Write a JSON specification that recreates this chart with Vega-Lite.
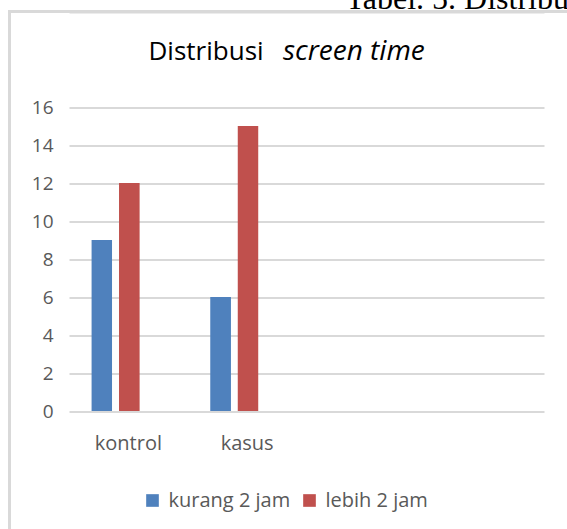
{
  "$schema": "https://vega.github.io/schema/vega-lite/v6.json",
  "autosize": "none",
  "padding": {"left": 9.5, "top": 11.5, "right": -52.5, "bottom": -52.5},
  "width": 610,
  "height": 570,
  "background": "#ffffff",
  "config": {
    "view": {"stroke": "#d9d9d9", "strokeWidth": 3}
  },
  "data": {
    "values": [
      {"grup": "kontrol", "kategori": "kurang 2 jam", "nilai": 9},
      {"grup": "kontrol", "kategori": "lebih 2 jam", "nilai": 12},
      {"grup": "kasus", "kategori": "kurang 2 jam", "nilai": 6},
      {"grup": "kasus", "kategori": "lebih 2 jam", "nilai": 15}
    ]
  },
  "encoding": {
    "xOffset": {
      "field": "kategori",
      "type": "nominal",
      "scale": {"domain": ["kurang 2 jam", "lebih 2 jam", "-"], "paddingInner": 0.26, "paddingOuter": 0.8, "align": 0.52}
    },
    "y": {
      "field": "nilai",
      "type": "quantitative",
      "scale": {"domain": [0, 16], "range": [399.5, 95.5], "nice": false, "zero": true},
      "axis": {
        "orient": "left",
        "offset": -59.5,
        "values": [0, 2, 4, 6, 8, 10, 12, 14, 16],
        "domain": false,
        "ticks": false,
        "tickSize": 0,
        "grid": true,
        "gridColor": "#d9d9d9",
        "gridWidth": 2,
        "labelPadding": 16,
        "labelFont": "Open Sans",
        "labelFontSize": 19,
        "labelColor": "#595959",
        "title": "screen time",
        "titleFont": "Open Sans",
        "titleFontSize": 28,
        "titleFontWeight": "normal",
        "titleFontStyle": "italic",
        "titleColor": "#000000",
        "titleAlign": "left",
        "titleBaseline": "alphabetic",
        "titleAngle": 0,
        "titleX": 213.5,
        "titleY": 47.5
      }
    },
    "color": {
      "field": "kategori",
      "type": "nominal",
      "scale": {"domain": ["kurang 2 jam", "lebih 2 jam"], "range": ["#4f81bd", "#c0504d"]},
      "legend": {
        "orient": "none",
        "legendX": 133,
        "legendY": 479,
        "direction": "horizontal",
        "title": null,
        "symbolType": "square",
        "symbolSize": 160,
        "symbolStrokeWidth": 0,
        "labelFont": "Open Sans",
        "labelFontSize": 20,
        "labelColor": "#595959",
        "labelOffset": 6,
        "columnPadding": 9
      }
    }
  },
  "layer": [
    {
      "mark": {"type": "bar"},
      "encoding": {
        "x": {
          "field": "grup",
          "type": "nominal",
          "sort": null,
          "scale": {"domain": ["kontrol", "kasus", " ", "  "], "range": [59.5, 534.5], "paddingInner": 0, "paddingOuter": 0},
          "axis": {
            "orient": "bottom",
            "offset": -170.5,
            "domain": false,
            "ticks": false,
            "tickSize": 0,
            "grid": false,
            "labelAngle": 0,
            "labelPadding": 22,
            "labelFont": "Open Sans",
            "labelFontSize": 20,
            "labelColor": "#595959",
            "title": "Distribusi",
            "titleFont": "Open Sans",
            "titleFontSize": 26,
            "titleFontWeight": "normal",
            "titleColor": "#000000",
            "titleAlign": "left",
            "titleBaseline": "alphabetic",
            "titleAngle": 0,
            "titleX": 138.5,
            "titleY": -352
          }
        }
      }
    },
    {
      "mark": {"type": "bar"},
      "encoding": {
        "x": {
          "field": "grup",
          "type": "nominal",
          "sort": null,
          "scale": {"domain": ["kontrol", "kasus", " ", "  "], "range": [59.5, 534.5], "paddingInner": 0, "paddingOuter": 0},
          "axis": {
            "orient": "top",
            "offset": 0,
            "domain": true,
            "domainColor": "#d9d9d9",
            "domainWidth": 3,
            "ticks": false,
            "tickSize": 0,
            "labels": false,
            "grid": false,
            "title": "Tabel. 5. Distribusi screen time",
            "titleFont": "Liberation Serif",
            "titleFontSize": 32,
            "titleFontWeight": "normal",
            "titleColor": "#000000",
            "titleAlign": "left",
            "titleBaseline": "alphabetic",
            "titleAngle": 0,
            "titleX": 335.5,
            "titleY": -3.5
          }
        }
      }
    }
  ],
  "resolve": {"axis": {"x": "independent"}}
}
